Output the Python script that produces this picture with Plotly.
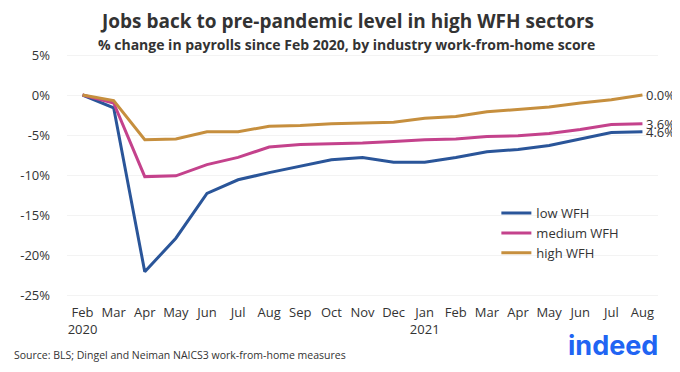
import plotly.graph_objects as go

months = ["Feb", "Mar", "Apr", "May", "Jun", "Jul", "Aug", "Sep", "Oct", "Nov", "Dec",
          "Jan", "Feb", "Mar", "Apr", "May", "Jun", "Jul", "Aug"]
tick_labels = ["Feb<br>2020", "Mar", "Apr", "May", "Jun", "Jul", "Aug", "Sep", "Oct", "Nov", "Dec",
               "Jan<br>2021", "Feb", "Mar", "Apr", "May", "Jun", "Jul", "Aug"]
low_wfh = [0, -1.6, -22.1, -17.9, -12.3, -10.6, -9.7, -8.9, -8.1, -7.8, -8.4, -8.4,
           -7.8, -7.1, -6.8, -6.3, -5.5, -4.7, -4.6]
medium_wfh = [0, -1.0, -10.2, -10.1, -8.7, -7.8, -6.5, -6.2, -6.1, -6.0, -5.8, -5.6,
              -5.5, -5.2, -5.1, -4.8, -4.3, -3.7, -3.6]
high_wfh = [0, -0.7, -5.6, -5.5, -4.6, -4.6, -3.9, -3.8, -3.6, -3.5, -3.4, -2.9,
            -2.7, -2.1, -1.8, -1.5, -1.0, -0.6, 0.0]
end_labels = ["4.6%", "3.6%", "0.0%"]
y_ticks = [5, 0, -5, -10, -15, -20, -25]

x = list(range(len(months)))
series = [("low WFH", low_wfh, "#2a5599"),
          ("medium WFH", medium_wfh, "#c4428c"),
          ("high WFH", high_wfh, "#c68f3e")]

# page body has an 8px margin, so the figure is placed 8px right/down
PL, PT, PW, PH = 62, 47, 596, 256  # target plot-area in screenshot pixels
OFF = 8

fig = go.Figure()
for name, vals, col in series:
    fig.add_trace(go.Scatter(x=x, y=vals, mode="lines", name=name,
                             line=dict(color=col, width=3), cliponaxis=False))

for (name, vals, col), lab in zip(series, end_labels):
    fig.add_annotation(x=x[-1], y=vals[-1], text=lab, showarrow=False,
                       xanchor="left", yanchor="middle", xshift=2,
                       font=dict(family="Open Sans", size=13, color="#333333"))

fig.update_layout(
    width=680, height=372,
    margin=dict(l=PL - OFF, r=680 - (PL - OFF) - PW, t=PT - OFF, b=372 - (PT - OFF) - PH),
    paper_bgcolor="white", plot_bgcolor="white",
    showlegend=True,
    legend=dict(x=(495 - PL) / PW, y=0.41, xanchor="left", yanchor="top",
                font=dict(family="Open Sans", size=13, color="#333333"),
                bgcolor="rgba(0,0,0,0)", tracegroupgap=0, itemwidth=30),
    font=dict(family="Open Sans", color="#333333"),
)
fig.update_xaxes(range=[-0.5, 18.5], tickmode="array", tickvals=x, ticktext=tick_labels,
                 showgrid=False, zeroline=False, showline=False, ticks="",
                 tickfont=dict(family="Open Sans", size=13, color="#333333"))
fig.update_yaxes(range=[-26, 6], tickmode="array", tickvals=y_ticks,
                 ticktext=[f"{v}%" for v in y_ticks],
                 showgrid=True, gridcolor="#f3f3f3", zeroline=False, showline=False,
                 ticks="", ticklabelstandoff=16,
                 tickfont=dict(family="Open Sans", size=13, color="#333333"))


def px(xp):
    return (xp - PL) / PW


def py(yp):
    return 1 - (yp - PT) / PH


fig.add_annotation(xref="paper", yref="paper", xanchor="center", yanchor="middle",
                   x=px(344), y=py(21),
                   text="<b>Jobs back to pre-pandemic level in high WFH sectors</b>",
                   showarrow=False, font=dict(family="Open Sans", size=19, color="#333333"))
fig.add_annotation(xref="paper", yref="paper", xanchor="center", yanchor="middle",
                   x=px(344), y=py(44),
                   text="<b>% change in payrolls since Feb 2020, by industry work-from-home score</b>",
                   showarrow=False, font=dict(family="Open Sans", size=14, color="#333333"))
fig.add_annotation(xref="paper", yref="paper", xanchor="left", yanchor="middle",
                   x=px(7), y=py(355),
                   text="Source: BLS; Dingel and Neiman NAICS3 work-from-home measures",
                   showarrow=False, font=dict(family="Open Sans", size=10.5, color="#333333"))
fig.add_annotation(xref="paper", yref="paper", xanchor="center", yanchor="middle",
                   x=px(613), y=py(345),
                   text="<b>indeed</b>",
                   showarrow=False, font=dict(family="Inter", size=27, color="#2164f3"))

fig.write_html("out.html")
